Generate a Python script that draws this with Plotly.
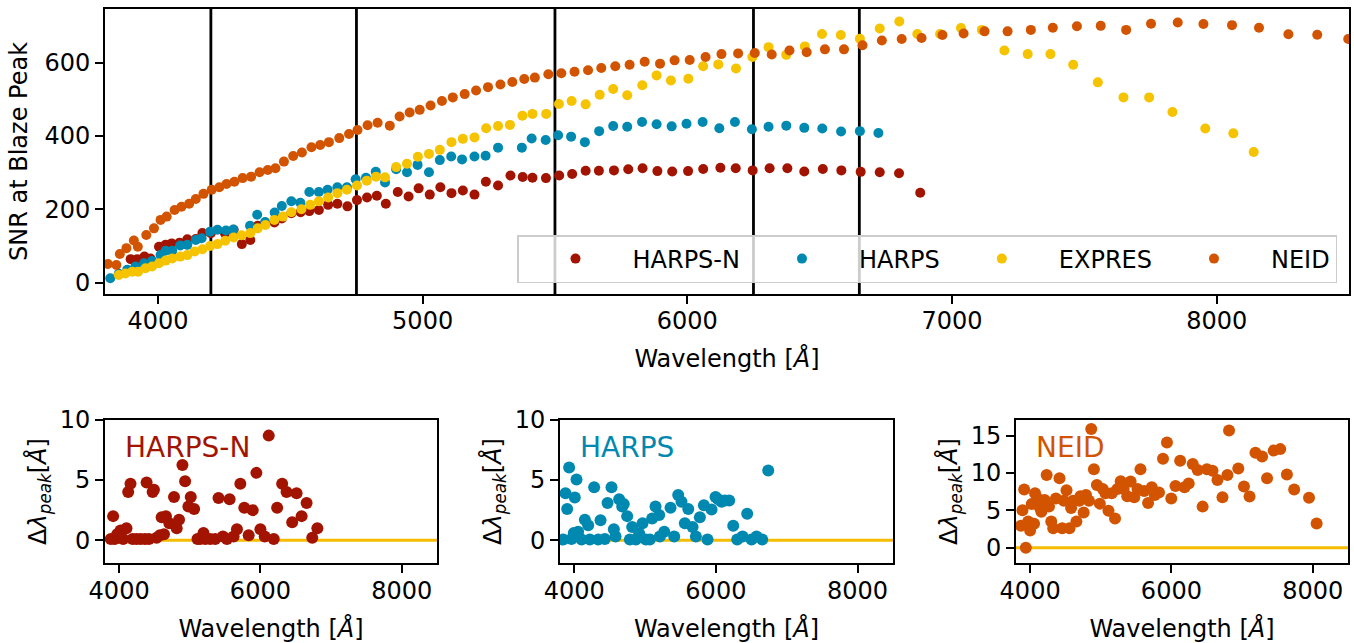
import plotly.graph_objects as go

# ---------------- data ----------------
harpsn_wl = [3897, 3922, 3949, 3972, 4004, 4029, 4052, 4082, 4111, 4143, 4168, 4200, 4253, 4286, 4317, 4349,
             4377, 4405, 4440, 4468, 4504, 4539, 4572, 4608, 4643, 4678, 4716, 4752, 4790, 4827, 4861, 4906,
             4947, 4985, 5027, 5067, 5109, 5152, 5196, 5239, 5285, 5332, 5378, 5415, 5466, 5516, 5565, 5616,
             5666, 5723, 5777, 5831, 5887, 5943, 6003, 6060, 6125, 6183, 6247, 6311, 6378, 6442, 6512, 6582,
             6655, 6727, 6800, 6880]
harpsn_snr = [64, 64, 71, 66, 98, 103, 107, 109, 118, 119, 135, 135, 135, 144, 105, 116,
              155, 162, 164, 175, 189, 192, 195, 198, 212, 215, 208, 225, 232, 237, 215, 247,
              235, 257, 240, 260, 244, 251, 240, 275, 265, 292, 288, 286, 285, 292, 296, 305,
              305, 306, 309, 312, 304, 303, 304, 310, 313, 312, 306, 312, 312, 303, 310, 306,
              302, 301, 298, 245]

harps_wl = [3820, 3852, 3884, 3915, 3947, 3978, 4010, 4029, 4054, 4084, 4111, 4143, 4165, 4197, 4225, 4257,
            4285, 4348, 4375, 4405, 4441, 4468, 4504, 4538, 4572, 4608, 4641, 4678, 4714, 4747, 4786, 4823,
            4858, 4900, 4941, 4981, 5024, 5065, 5108, 5149, 5196, 5238, 5285, 5375, 5412, 5465, 5512, 5561,
            5613, 5667, 5720, 5773, 5829, 5884, 5941, 5997, 6058, 6121, 6180, 6244, 6307, 6374, 6442, 6510,
            6581, 6652, 6722]
harps_snr = [12, 24, 35, 44, 53, 59, 75, 87, 87, 101, 103, 116, 121, 139, 144, 142,
             145, 155, 185, 165, 191, 209, 222, 218, 247, 247, 253, 260, 260, 282, 286, 302,
             273, 309, 301, 321, 301, 334, 344, 336, 344, 346, 368, 368, 393, 389, 402, 398,
             383, 413, 427, 425, 438, 432, 426, 433, 438, 421, 438, 418, 425, 428, 422, 420,
             412, 413, 408]

expres_wl = [3852, 3877, 3903, 3925, 3953, 3978, 4004, 4029, 4054, 4084, 4111, 4139, 4168, 4197, 4225, 4254,
             4286, 4316, 4349, 4377, 4406, 4440, 4472, 4504, 4542, 4575, 4608, 4643, 4678, 4714, 4752, 4789,
             4824, 4858, 4900, 4941, 4982, 5024, 5065, 5109, 5152, 5196, 5240, 5285, 5330, 5377, 5415, 5467,
             5515, 5563, 5616, 5669, 5720, 5773, 5830, 5884, 5938, 6004, 6060, 6117, 6184, 6246, 6307, 6374,
             6444, 6509, 6580, 6652, 6727, 6801, 6869, 6955, 7034, 7113, 7198, 7286, 7372, 7458, 7551, 7648,
             7745, 7833, 7957, 8063, 8140]
expres_snr = [21, 25, 30, 30, 39, 44, 53, 60, 66, 71, 75, 85, 91, 100, 105, 114,
              123, 129, 135, 148, 157, 171, 180, 192, 200, 212, 222, 232, 244, 253, 265, 278,
              289, 287, 315, 324, 343, 351, 362, 383, 392, 396, 421, 427, 430, 455, 460, 460,
              487, 495, 486, 512, 528, 511, 538, 565, 551, 556, 590, 595, 584, 615, 642, 621,
              644, 678, 675, 665, 693, 712, 678, 678, 694, 689, 633, 623, 623, 594, 546, 505,
              505, 465, 420, 407, 356]

neid_wl = [3811, 3843, 3856, 3881, 3909, 3924, 3956, 3985, 4010, 4033, 4063, 4089, 4118, 4143, 4172, 4203,
           4232, 4259, 4289, 4320, 4352, 4384, 4415, 4444, 4476, 4511, 4544, 4580, 4613, 4646, 4685, 4722,
           4754, 4792, 4830, 4876, 4913, 4951, 4989, 5030, 5073, 5114, 5159, 5202, 5247, 5294, 5339, 5384,
           5424, 5475, 5524, 5574, 5625, 5675, 5728, 5782, 5839, 5897, 5952, 6009, 6069, 6129, 6192, 6255,
           6319, 6386, 6451, 6520, 6592, 6662, 6735, 6810, 6885, 6964, 7044, 7123, 7210, 7298, 7381, 7472,
           7562, 7658, 7752, 7853, 7950, 8058, 8160, 8271, 8380, 8497]
neid_snr = [51, 48, 78, 94, 115, 98, 130, 148, 171, 180, 198, 207, 215, 228, 242, 253,
            260, 269, 275, 285, 289, 301, 307, 312, 330, 345, 355, 369, 375, 383, 394, 405,
            416, 429, 436, 428, 453, 464, 471, 483, 495, 505, 514, 524, 533, 540, 547, 555,
            559, 568, 571, 575, 579, 585, 590, 594, 602, 597, 606, 607, 615, 623, 625, 626,
            622, 633, 628, 636, 636, 647, 660, 664, 667, 675, 679, 685, 685, 689, 695, 699,
            700, 689, 706, 709, 705, 702, 695, 677, 676, 664]

order_bounds = [4200, 4750, 5500, 6250, 6650]

harpsn_dx = [3882, 3915, 3938, 3972, 4019, 4057, 4104, 4128, 4161, 4190, 4246, 4303, 4365, 4389, 4422, 4474,
             4493, 4531, 4578, 4602, 4635, 4663, 4711, 4777, 4815, 4848, 4896, 4934, 4981, 5014, 5062, 5109,
             5147, 5194, 5218, 5289, 5360, 5407, 5469, 5526, 5564, 5621, 5668, 5716, 5772, 5834, 5891, 5943,
             6000, 6061, 6118, 6189, 6237, 6308, 6370, 6450, 6512, 6583, 6654, 6734, 6806]
harpsn_dpeak = [0.1, 2.0, 0.1, 0.5, 0.8, 0.1, 1.0, 4.0, 4.7, 0.1, 0.1, 0.1, 0.1, 4.8, 0.1, 4.0,
                4.2, 0.2, 0.4, 1.9, 0.5, 2.0, 1.4, 3.6, 1.0, 1.7, 6.25, 4.9, 2.8, 3.6, 2.6, 0.1,
                0.1, 0.6, 0.1, 0.1, 0.1, 3.5, 0.3, 0.1, 3.4, 0.3, 0.9, 4.7, 2.7, 0.4, 2.5, 5.6,
                0.9, 0.3, 8.7, 0.1, 2.7, 4.7, 4.0, 1.5, 3.9, 2.0, 3.1, 0.2, 1.0]

harps_dx = [3845, 3878, 3901, 3929, 3962, 3995, 4009, 4033, 4056, 4104, 4151, 4198, 4221, 4282, 4339, 4372,
            4433, 4471, 4527, 4560, 4584, 4635, 4678, 4701, 4748, 4786, 4819, 4871, 4918, 4965, 5012, 5068,
            5101, 5148, 5200, 5209, 5271, 5360, 5412, 5468, 5515, 5562, 5610, 5671, 5718, 5774, 5831, 5882,
            5939, 5995, 6033, 6080, 6127, 6188, 6245, 6301, 6377, 6442, 6504, 6574, 6654, 6739]
harps_dpeak = [0.05, 3.9, 2.6, 6.05, 0.1, 0.6, 3.55, 5.05, 0.7, 0.05, 1.7, 1.25, 0.05, 4.4, 0.05, 1.65,
               0.1, 3.1, 4.4, 0.9, 0.3, 3.4, 2.8, 3.0, 2.0, 0.05, 1.1, 0.05, 0.55, 1.4, 0.05, 0.05,
               1.8, 2.8, 2.1, 0.3, 0.7, 2.7, 0.3, 3.75, 3.2, 1.4, 2.6, 1.1, 0.3, 1.9, 2.9, 0.05,
               2.55, 3.6, 3.4, 3.2, 3.3, 3.3, 1.2, 0.05, 0.3, 2.2, 0.05, 0.3, 0.05, 5.8]

neid_dx = [3869, 3892, 3916, 3939, 3972, 4000, 4023, 4056, 4070, 4103, 4140, 4159, 4206, 4234, 4267, 4299,
           4327, 4365, 4416, 4454, 4477, 4515, 4557, 4580, 4608, 4655, 4697, 4711, 4758, 4791, 4833, 4865,
           4903, 4945, 4987, 5029, 5067, 5109, 5155, 5202, 5235, 5282, 5324, 5375, 5422, 5474, 5520, 5562,
           5614, 5670, 5722, 5764, 5824, 5881, 5937, 5998, 6058, 6124, 6185, 6245, 6302, 6372, 6442, 6503,
           6582, 6652, 6723, 6793, 6816, 6947, 7027, 7106, 7190, 7284, 7354, 7448, 7541, 7635, 7738, 7948,
           8056]
neid_dpeak = [2.95, 5.0, 7.8, 0.0, 3.5, 2.3, 5.85, 3.2, 7.3, 6.6, 5.3, 4.8, 6.4, 9.75, 5.5, 3.5,
              2.6, 6.6, 9.3, 2.6, 6.3, 7.7, 2.6, 5.3, 6.3, 3.5, 6.3, 6.9, 4.7, 7.05, 6.3, 15.9,
              10.5, 8.4, 5.9, 7.85, 7.3, 4.95, 7.3, 3.9, 7.85, 8.9, 7.85, 6.9, 8.85, 6.75, 7.85, 10.5,
              7.6, 6.0, 8.1, 7.05, 7.4, 11.9, 14.1, 6.6, 8.25, 11.65, 8.1, 8.6, 11.2, 10.4, 5.5, 10.5,
              10.3, 9.05, 6.75, 9.75, 15.7, 10.6, 8.2, 6.85, 12.7, 12.2, 9.3, 13.0, 13.2, 9.8, 7.8, 6.7,
              3.25]

# ---------------- styling ----------------
C_HARPSN = "#A21400"
C_HARPS = "#0089B0"
C_EXPRES = "#F5C300"
C_NEID = "#D35400"
ZERO_LINE = "#F5BC00"
FONT = "DejaVu Sans"
W, H = 1354, 643


def px2x(p):
    return p / W


def px2y(p):
    return 1 - p / H


fig = go.Figure()

main_series = [
    ("HARPS-N", harpsn_wl, harpsn_snr, C_HARPSN),
    ("HARPS", harps_wl, harps_snr, C_HARPS),
    ("EXPRES", expres_wl, expres_snr, C_EXPRES),
    ("NEID", neid_wl, neid_snr, C_NEID),
]
for name, xs, ys, c in main_series:
    fig.add_trace(go.Scatter(x=xs, y=ys, mode="markers", name=name,
                             marker=dict(color=c, size=10, line=dict(width=0)),
                             xaxis="x", yaxis="y"))

for b in order_bounds:
    fig.add_shape(type="line", x0=b, x1=b, y0=0, y1=1, xref="x", yref="y domain",
                  line=dict(color="black", width=2.8), layer="below")

bottom = [
    ("HARPS-N", harpsn_dx, harpsn_dpeak, C_HARPSN, "2"),
    ("HARPS", harps_dx, harps_dpeak, C_HARPS, "3"),
    ("NEID", neid_dx, neid_dpeak, C_NEID, "4"),
]
for name, xs, ys, c, ax in bottom:
    fig.add_shape(type="line", x0=0, x1=1, y0=0, y1=0, xref=f"x{ax} domain", yref=f"y{ax}",
                  line=dict(color=ZERO_LINE, width=3), layer="below")
    fig.add_trace(go.Scatter(x=xs, y=ys, mode="markers", name=name, showlegend=False,
                             marker=dict(color=c, size=12, line=dict(width=0)),
                             xaxis=f"x{ax}", yaxis=f"y{ax}"))

axis_common = dict(showline=True, linecolor="black", linewidth=2, mirror=True,
                   ticks="outside", ticklen=8, tickwidth=2, tickcolor="black",
                   showgrid=False, zeroline=False, automargin=False)

layout = dict(
    width=W, height=H, autosize=False,
    margin=dict(l=0, r=0, t=0, b=0, autoexpand=False),
    paper_bgcolor="white", plot_bgcolor="white",
    font=dict(family=FONT, color="black", size=24),
    showlegend=True,
    legend=dict(orientation="h", x=px2x(1337), xanchor="right", y=px2y(283), yanchor="bottom",
                bgcolor="rgba(255,255,255,0.8)", bordercolor="#cccccc", borderwidth=1.5,
                font=dict(family=FONT, size=24, color="black"), itemwidth=104),
    xaxis=dict(domain=[px2x(105), px2x(1349)], range=[3800, 8500], tickvals=[4000, 5000, 6000, 7000, 8000],
               tickfont=dict(size=24), title=dict(text="Wavelength [<i>Å</i>]", font=dict(size=24), standoff=16),
               anchor="y", ticklabelstandoff=-4, **axis_common),
    yaxis=dict(domain=[px2y(294), px2y(9)], range=[-31, 746], tickvals=[0, 200, 400, 600],
               tickfont=dict(size=24), title=dict(text="SNR at Blaze Peak", font=dict(size=24), standoff=10),
               anchor="x", **axis_common),
)

bx = [(105, 437), (560, 893), (1016, 1348)]
yr = [[-1.9, 10], [-1.9, 10], [-2.05, 17.1]]
yt = [[0, 5, 10], [0, 5, 10], [0, 5, 10, 15]]
for i, (name, xs, ys, c, ax) in enumerate(bottom):
    l, r = bx[i]
    layout[f"xaxis{ax}"] = dict(domain=[px2x(l), px2x(r)], range=[3800, 8500], tickvals=[4000, 6000, 8000],
                                tickfont=dict(size=24), anchor=f"y{ax}", ticklabelstandoff=-3,
                                title=dict(text="Wavelength [<i>Å</i>]", font=dict(size=24), standoff=16),
                                **axis_common)
    layout[f"yaxis{ax}"] = dict(domain=[px2y(563), px2y(420)], range=yr[i], tickvals=yt[i],
                                tickfont=dict(size=24), anchor=f"x{ax}",
                                title=dict(text="Δ<i>λ</i><sub><i>peak</i></sub>[<i>Å</i>]",
                                           font=dict(size=24), standoff=6),
                                **axis_common)
    fig.add_annotation(text=name, x=0.055, y=px2y(447), xref=f"x{ax} domain", yref="paper",
                       xanchor="left", yanchor="middle", showarrow=False,
                       font=dict(family=FONT, size=28, color=c))

fig.update_layout(**layout)

fig.write_html("out.html", config={"displayModeBar": False},
               post_script="document.body.style.margin='0';")
